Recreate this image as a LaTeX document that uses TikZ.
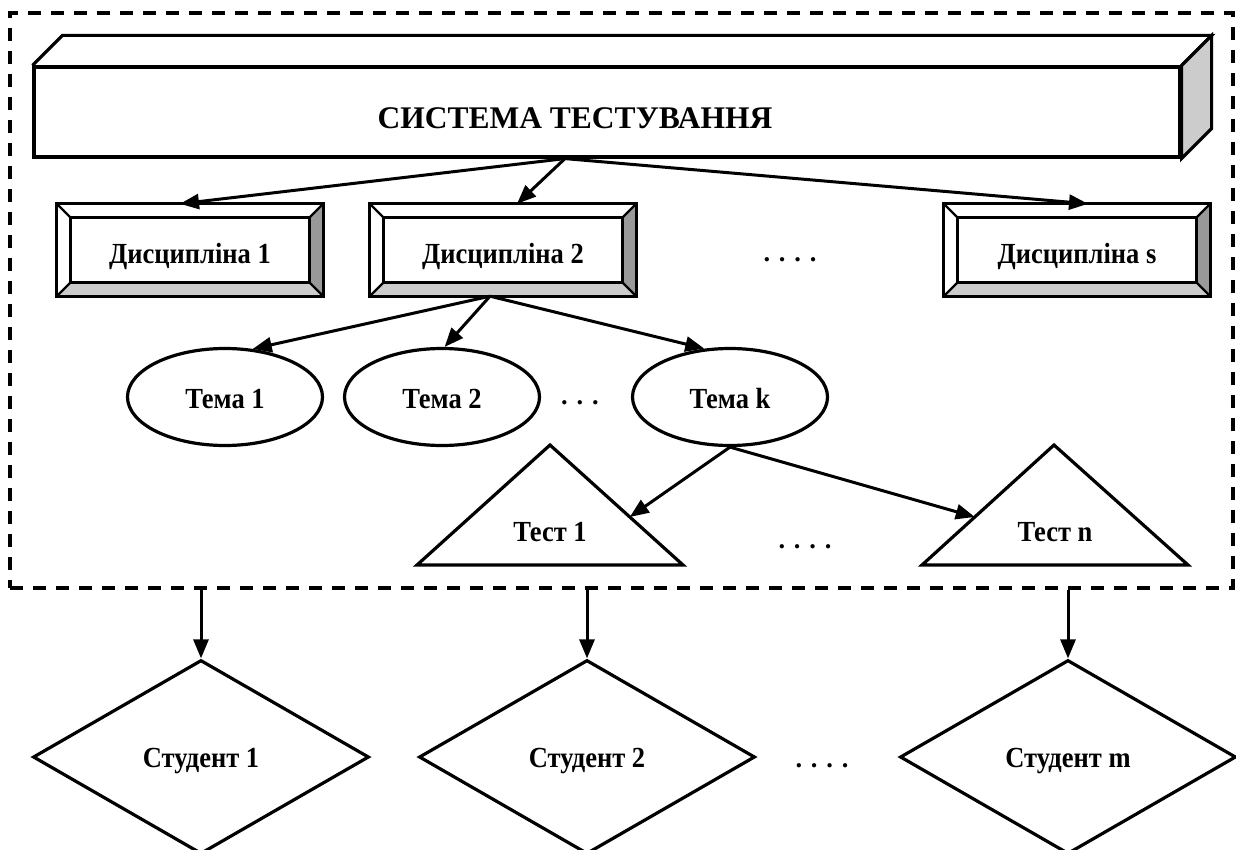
\documentclass[tikz,border=0pt]{standalone}
\usepackage{fontspec}
\setmainfont{Liberation Serif}
\usetikzlibrary{arrows.meta,shapes.geometric,calc}
\definecolor{bevdark}{HTML}{999999}
\definecolor{bevlight}{HTML}{CCCCCC}
\definecolor{sidegray}{HTML}{CCCCCC}
\newcommand\lblfont{\fontsize{26.5}{30}\selectfont\bfseries}
\newcommand\ttlfont{\fontsize{31.5}{36}\selectfont\bfseries}
\newcommand\lowlbl[2]{\raisebox{-#1}[\height][\depth]{\scalebox{1}[1.1]{#2}}}
\newcommand\bevelbox[1]{%
  \fill[bevdark] (#1.north east) -- (#1.south east) -- ([shift={(-14,-14)}]#1.south east) -- ([shift={(-14,14)}]#1.north east) -- cycle;
  \fill[bevlight] (#1.south west) -- (#1.south east) -- ([shift={(-14,-14)}]#1.south east) -- ([shift={(14,-14)}]#1.south west) -- cycle;
  \draw[bevline] (#1.north west) -- ([shift={(14,14)}]#1.north west);
  \draw[bevline] (#1.north east) -- ([shift={(-14,14)}]#1.north east);
  \draw[bevline] (#1.south west) -- ([shift={(14,-14)}]#1.south west);
  \draw[bevline] (#1.south east) -- ([shift={(-14,-14)}]#1.south east);
  \draw[ln] ([shift={(14,14)}]#1.north west) rectangle ([shift={(-14,-14)}]#1.south east);
  \draw[ln] (#1.north west) rectangle (#1.south east);
}
\begin{document}
\begin{tikzpicture}[x=1pt,y=-1pt,
  ln/.style={line width=3.2pt},
  bevline/.style={line width=2.4pt},
  arr/.style={-{Triangle[length=19pt,width=15pt]}, line width=3pt},
  framebox/.style={draw, dash pattern=on 13pt off 10pt, line width=3.2pt, minimum width=1223pt, minimum height=575pt, inner sep=0pt},
  dbox/.style={minimum width=266pt, minimum height=92pt, inner sep=0pt, font=\lblfont},
  ell/.style={ellipse, draw, ln, minimum width=195pt, minimum height=97pt, inner sep=0pt, font=\lblfont},
  dia/.style={diamond, draw, ln, minimum width=336pt, minimum height=194pt, inner sep=0pt, font=\lblfont},
  txt/.style={font=\lblfont, inner sep=0pt},
]
\useasboundingbox (0,0) rectangle (1236,850);

% dashed frame
\node[framebox] (frame) at (621.5,300.5) {};

% 3D bar
\node[draw, ln, minimum width=1146pt, minimum height=90pt, inner sep=0pt] (sys) at (607,112) {};
\draw[ln, line join=miter] (sys.north west) -- ++(30,-30) -- ([shift={(30,-30)}]sys.north east) -- (sys.north east);
\filldraw[ln, fill=sidegray, line join=miter] (sys.north east) -- ([shift={(30,-30)}]sys.north east) -- ([shift={(30,-30)}]sys.south east) -- (sys.south east) -- cycle;
\node[font=\ttlfont, inner sep=0pt] (systxt) at (575,118) {СИСТЕМА ТЕСТУВАННЯ};

% disciplines
\node[dbox] (d1) at (190,250) {\lowlbl{6pt}{Дисципліна 1}};
\bevelbox{d1}
\node[dbox] (d2) at (503,250) {\lowlbl{6pt}{Дисципліна 2}};
\bevelbox{d2}
\node[dbox] (ds) at (1077,250) {\lowlbl{6pt}{Дисципліна s}};
\bevelbox{ds}
\node[txt] (dotsd) at (790,260) {. . . .};

\coordinate (sysout) at ([xshift=-42pt]sys.south);
\draw[arr] (sysout) -- ([xshift=-10pt]d1.north);
\draw[arr] (sysout) -- ([xshift=14pt]d2.north);
\draw[arr] (sysout) -- ([xshift=11pt]ds.north);

% topics
\node[ell] (t1) at (225,397) {\lowlbl{2pt}{Тема 1}};
\node[ell] (t2) at (442,397) {\lowlbl{2pt}{Тема 2}};
\node[ell] (tk) at (730,397) {\lowlbl{2pt}{Тема k}};
\node[txt] (dotst) at (580,403) {. . .};

\coordinate (d2out) at ([xshift=-13pt]d2.south);
\draw[arr] (d2out) -- (t1.60);
\draw[arr] (d2out) -- (t2.87);
\draw[arr] (d2out) -- (tk.118);

% tests
\coordinate (a1) at (550,445);
\coordinate (l1) at (417,565);
\coordinate (r1) at (683,565);
\draw[ln, line join=miter] (a1) -- (l1) -- (r1) -- cycle;
\node[txt] (ts1) at (550,532) {\lowlbl{0pt}{Тест 1}};
\coordinate (an) at (1054,445);
\coordinate (ln) at (922,565);
\coordinate (rn) at (1188,565);
\draw[ln, line join=miter] (an) -- (ln) -- (rn) -- cycle;
\node[txt] (tsn) at (1055,532) {\lowlbl{0pt}{Тест n}};
\node[txt] (dotsx) at (805,547) {. . . .};

\coordinate (in1) at ($(a1)!0.6!(r1)$);
\coordinate (inn) at ($(an)!0.6!(ln)$);
\draw[arr] (tk.south) -- (in1);
\draw[arr] (tk.south) -- (inn);

% students
\node[dia] (s1) at (201,757) {\lowlbl{4pt}{Студент 1}};
\node[dia] (s2) at (587,757) {\lowlbl{4pt}{Студент 2}};
\node[dia] (sm) at (1068,757) {\lowlbl{4pt}{Студент m}};
\node[txt] (dotss) at (822,766) {. . . .};

\draw[arr] (frame.south -| s1.north) -- (s1.north);
\draw[arr] (frame.south -| s2.north) -- (s2.north);
\draw[arr] (frame.south -| sm.north) -- (sm.north);
\end{tikzpicture}
\end{document}
